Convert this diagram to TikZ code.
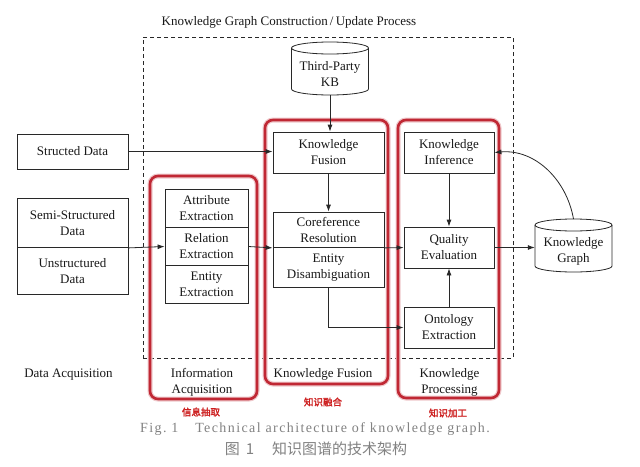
\documentclass[tikz,border=0pt]{standalone}
\usepackage{fontspec}
\setmainfont{Liberation Serif}
\newfontfamily\cjk{Noto Sans CJK SC}
\newfontfamily\cjkb[FakeBold=2]{Noto Sans CJK SC}
\newfontfamily\capfont[LetterSpace=10]{Liberation Serif}
\usetikzlibrary{arrows.meta}
\definecolor{redframe}{RGB}{192,40,52}
\definecolor{redtext}{RGB}{205,30,30}
\definecolor{capgray}{RGB}{130,130,130}
\definecolor{linecol}{RGB}{40,40,40}
\begin{document}
\begin{tikzpicture}[x=1pt,y=1pt,
  txt/.style={font=\fontsize{13}{16}\selectfont, align=center, inner sep=0pt, text=black!90},
  box/.style={txt, draw=linecol, line width=0.8pt},
  arr/.style={-{Latex[length=7pt,width=5pt]}, line width=0.8pt, draw=linecol},
  phase/.style={draw=redframe, line width=2.6pt, rounded corners=8pt, inner sep=0pt,
    preaction={draw=redframe!25, line width=5pt}},
  cyl/.style={draw=linecol, line width=0.8pt},
  redlab/.style={font=\cjkb\fontsize{9.5}{11}\selectfont, text=redtext, inner sep=0pt}]
\useasboundingbox (0,0) rectangle (640,-466);
\fill[white] (0,0) rectangle (640,-466);

% process frame
\node[draw=linecol, dashed, dash pattern=on 4pt off 3pt, line width=0.8pt, minimum width=370, minimum height=321, inner sep=0pt] (proc) at (328,-197.5) {};
\node[txt] (title) at (289,-22) {Knowledge Graph Construction\,/\,Update Process};

% phase frames
\node[phase, minimum width=107, minimum height=223] (ia) at (203.5,-287.5) {};
\node[phase, minimum width=123, minimum height=264] (kfp) at (326.5,-252) {};
\node[phase, minimum width=101, minimum height=278] (kp) at (448.5,-259) {};

% data sources
\node[box, minimum width=111, minimum height=35] (structed) at (72.5,-151.5) {Structed Data};
\node[box, minimum width=111, minimum height=49.5] (semi) at (72.5,-222.75) {Semi-Structured\\Data};
\node[box, minimum width=111, minimum height=46.5] (unstr) at (72.5,-270.75) {Unstructured\\Data};

% information acquisition
\node[box, minimum width=83, minimum height=38.5] (attr) at (206.5,-208.25) {Attribute\\Extraction};
\node[box, minimum width=83, minimum height=38] (rel) at (206.5,-246.5) {Relation\\Extraction};
\node[box, minimum width=83, minimum height=37.5] (ent) at (206.5,-284.25) {Entity\\Extraction};

% knowledge fusion
\node[box, minimum width=111, minimum height=41] (kf) at (328.5,-152.5) {Knowledge\\Fusion};
\node[box, minimum width=111, minimum height=35.5] (coref) at (328.5,-229.75) {Coreference\\Resolution};
\node[box, minimum width=111, minimum height=39.5] (entdis) at (328.5,-267.25) {Entity\\Disambiguation};

% knowledge processing
\node[box, minimum width=90, minimum height=41] (kinf) at (449,-152.5) {Knowledge\\Inference};
\node[box, minimum width=90, minimum height=41] (qual) at (449,-247.5) {Quality\\Evaluation};
\node[box, minimum width=90, minimum height=41] (onto) at (449,-327.5) {Ontology\\Extraction};

% third-party KB cylinder
\draw[cyl] (291.5,-48) -- (291.5,-89) arc[start angle=180,end angle=360,x radius=38.5,y radius=6] -- (368.5,-48);
\draw[cyl] (330,-48) ellipse[x radius=38.5,y radius=6];
\node[txt, minimum width=77, minimum height=41] (kb) at (330,-74.5) {Third-Party\\KB};

% knowledge graph cylinder
\draw[cyl] (535,-225) -- (535,-266) arc[start angle=180,end angle=360,x radius=38.5,y radius=6] -- (612,-225);
\draw[cyl] (573.5,-225) ellipse[x radius=38.5,y radius=6];
\node[txt, minimum width=77, minimum height=41] (kg) at (573.5,-251.5) {Knowledge\\Graph};
\coordinate (kgtop) at (573.5,-219);

% connectors
\draw[arr] (structed.east) -- (structed.east -| kf.west);
\draw[arr] (semi.south east) -- (rel.west);
\draw[arr] (rel.east) -- (coref.south west);
\draw[arr] (kb.south) -- (kb.south |- kf.north);
\draw[arr] (kf.south) -- (coref.north);
\draw[arr] (coref.south east) -- (qual.west);
\draw[arr] (entdis.south) |- (onto.west);
\draw[arr] (kinf.south) -- (qual.north);
\draw[arr] (onto.north) -- (qual.south);
\draw[arr] (qual.east) -- (qual.east -| kg.west);
\draw[arr] (kgtop) to[out=100,in=5] (kinf.east);

% bottom labels
\node[txt] (daq) at (68.5,-375) {Data Acquisition};
\node[txt] (iaq) at (202,-382) {Information\\Acquisition};
\node[txt] (kfl) at (323,-374) {Knowledge Fusion};
\node[txt] (kpl) at (449.5,-382) {Knowledge\\Processing};

\node[redlab] (r1) at (201,-412) {信息抽取};
\node[redlab] (r2) at (323,-402) {知识融合};
\node[redlab] (r3) at (448,-413) {知识加工};

% captions
\node[inner sep=0pt, text=capgray, font=\capfont\fontsize{14}{16}\selectfont] (cap1) at (315,-429) {Fig.\ 1\hspace{1.2em}Technical architecture of knowledge graph.};
\node[inner sep=0pt, text=capgray, font=\cjk\fontsize{15}{17}\selectfont] (cap2) at (316,-449) {图\hspace{0.4em}1\hspace{1.2em}知识图谱的技术架构};
\end{tikzpicture}
\end{document}
